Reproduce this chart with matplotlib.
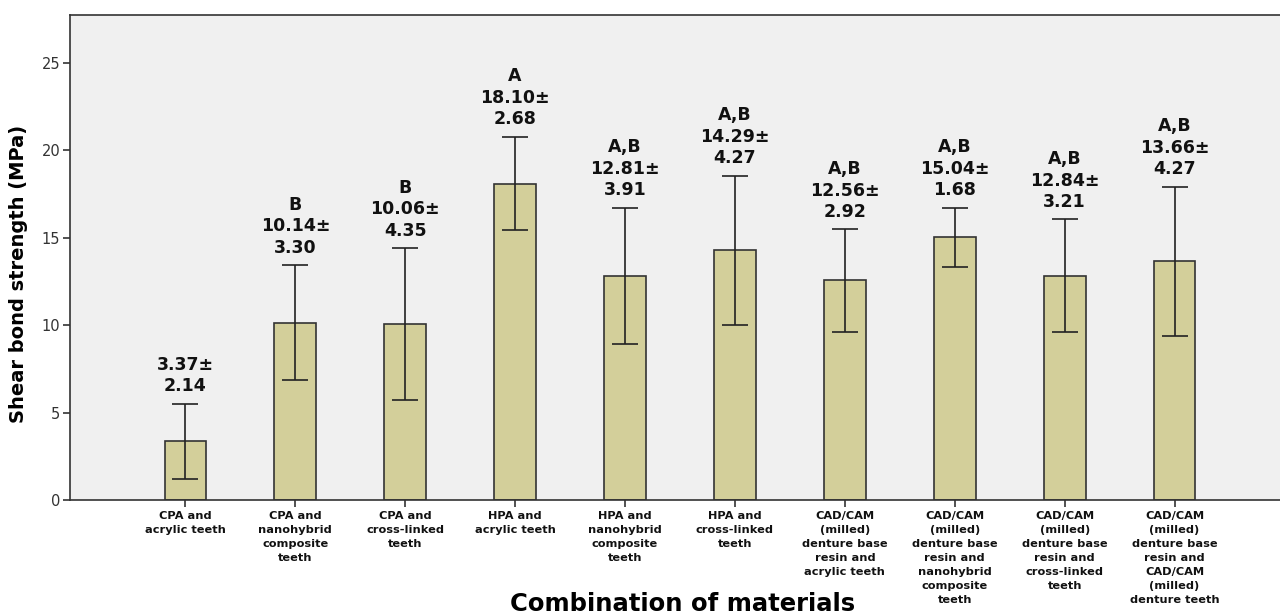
import matplotlib
matplotlib.use("Agg")
import matplotlib.pyplot as plt

categories = [
    "CPA and\nacrylic teeth",
    "CPA and\nnanohybrid\ncomposite\nteeth",
    "CPA and\ncross-linked\nteeth",
    "HPA and\nacrylic teeth",
    "HPA and\nnanohybrid\ncomposite\nteeth",
    "HPA and\ncross-linked\nteeth",
    "CAD/CAM\n(milled)\ndenture base\nresin and\nacrylic teeth",
    "CAD/CAM\n(milled)\ndenture base\nresin and\nnanohybrid\ncomposite\nteeth",
    "CAD/CAM\n(milled)\ndenture base\nresin and\ncross-linked\nteeth",
    "CAD/CAM\n(milled)\ndenture base\nresin and\nCAD/CAM\n(milled)\ndenture teeth",
]
means = [3.37, 10.14, 10.06, 18.10, 12.81, 14.29, 12.56, 15.04, 12.84, 13.66]
sds = [2.14, 3.30, 4.35, 2.68, 3.91, 4.27, 2.92, 1.68, 3.21, 4.27]
letters = ["", "B", "B", "A", "A,B", "A,B", "A,B", "A,B", "A,B", "A,B"]
yticks = [0, 5, 10, 15, 20, 25]

plt.rcParams['font.family'] = ['DejaVu Sans']

fig = plt.figure(figsize=(12.8, 6.15), dpi=100)
ax = fig.add_axes([70/1280, 1 - 500/615, 1220/1280, 485/615])
ax.set_facecolor('#F0F0F0')

x = list(range(len(categories)))
ax.bar(x, means, width=0.38, color='#D3CF9A', edgecolor='#333333', linewidth=1.2, zorder=2)
ax.errorbar(x, means, yerr=sds, fmt='none', ecolor='#222222', elinewidth=1.2,
            capsize=9.5, capthick=1.2, zorder=3)

for xi, m, s, l in zip(x, means, sds, letters):
    txt = f"{m:.2f}±\n{s:.2f}"
    if l:
        txt = l + "\n" + txt
    ax.annotate(txt, (xi, m + s), xytext=(0, 6), textcoords='offset points',
                ha='center', va='bottom', fontsize=12.5, fontweight='bold',
                linespacing=1.25, color='#111111')

ax.set_xlim(-1.05, 10.05)
ax.set_ylim(0, 27.75)
ax.set_yticks(yticks)
ax.set_yticklabels([str(t) for t in yticks], fontsize=10.5, color='#333333')
ax.set_xticks(x)
ax.set_xticklabels(categories, fontsize=8.2, fontweight='bold', linespacing=1.5,
                   color='#111111')
ax.tick_params(axis='x', length=5, width=1.2, color='#333333', pad=3)
ax.tick_params(axis='y', length=5, width=1.2, color='#333333', pad=2)

for side in ['left', 'bottom', 'top']:
    ax.spines[side].set_linewidth(1.2)
    ax.spines[side].set_color('#333333')
ax.spines['right'].set_visible(False)

fig.text(19/1280, 1 - 274/615, "Shear bond strength (MPa)", ha='center', va='center',
         rotation=90, fontsize=14, fontweight='bold')
fig.text(683/1280, 1 - 604/615, "Combination of materials", ha='center', va='center',
         fontsize=17.5, fontweight='bold')

fig.savefig("out.png", dpi=100, facecolor='white')
